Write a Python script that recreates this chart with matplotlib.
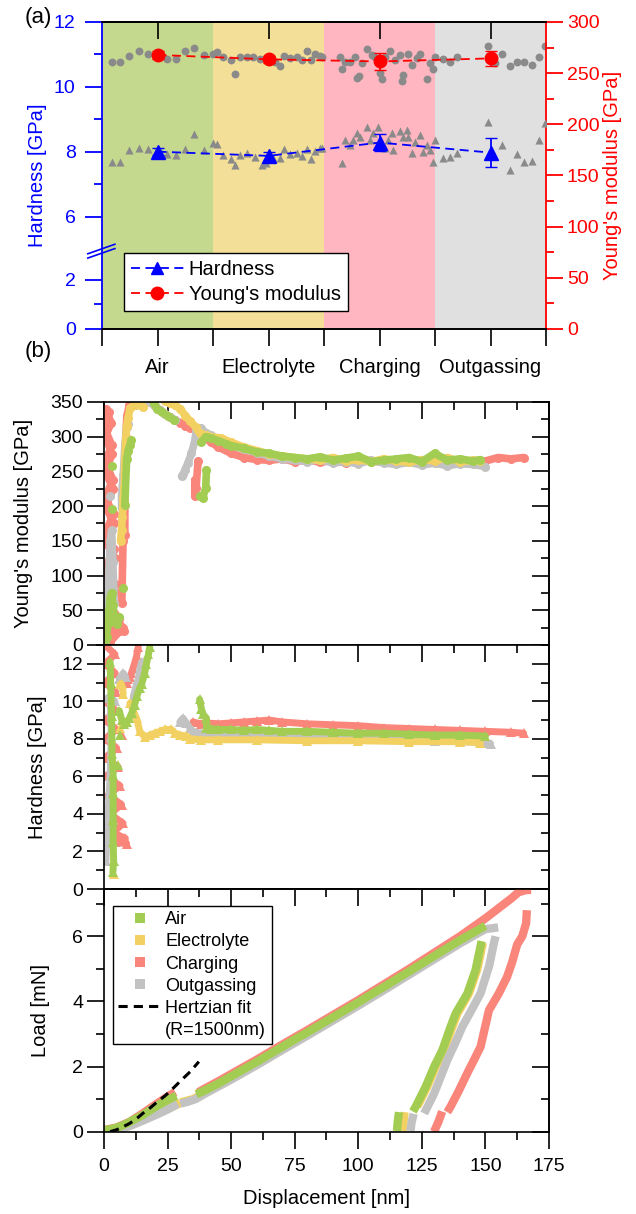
import numpy as np
import matplotlib
matplotlib.use("Agg")
import matplotlib.pyplot as plt
from matplotlib.ticker import MultipleLocator, FixedLocator, NullFormatter
from matplotlib.lines import Line2D

plt.rcParams['font.family'] = ['Liberation Sans', 'DejaVu Sans']
plt.rcParams['axes.linewidth'] = 1.2

nan = np.nan

# ---------------- panel (a) data ----------------
conditions = ['Air', 'Electrolyte', 'Charging', 'Outgassing']
region_colors = ['#c4d98e', '#f3df98', '#ffb6c1', '#e0e0e0']
cond_pos = [0.5, 1.5, 2.5, 3.5]
mean_H = [8.01, 7.88, 8.29, 7.98]
err_H = [0.10, 0.12, 0.25, 0.45]
mean_E = [267.8, 263.5, 261.4, 264.4]
err_E = [3.5, 3.5, 8.0, 7.2]

# single indents (grey): modulus circles
ind_x_E = [0.087, 0.162, 0.246, 0.333, 0.417, 0.583, 0.667, 0.748, 0.832, 0.919,
           0.997, 1.039, 1.093, 1.162, 1.198, 1.243, 1.304, 1.363, 1.423, 1.559,
           1.604, 1.640, 1.694, 1.754, 1.799, 1.844, 1.880, 1.919, 1.964,
           1.979, 2.144, 2.159, 2.189, 2.234, 2.279, 2.294, 2.318, 2.339, 2.384,
           2.430, 2.459, 2.504, 2.520, 2.550, 2.595, 2.640, 2.685, 2.700, 2.715,
           2.754, 2.790, 2.835, 2.865, 2.925, 2.955, 2.985, 3.000, 3.075, 3.135,
           3.201, 3.475, 3.541, 3.601, 3.676, 3.736, 3.802, 3.871, 3.937, 3.991]
ind_E = [261, 261, 267, 272, 269, 263.5, 264, 271.7, 275, 267.5,
         269, 271, 266, 263, 249, 265.5, 265.5, 266, 263.5, 261,
         257, 266.8, 264.5, 265.5, 263, 271.7, 263, 268.5, 266.8,
         266, 266, 254, 261, 261, 265.5, 245, 247, 260, 274,
         268, 266, 250, 244, 266, 272, 263, 268, 242, 248,
         269, 258, 264.5, 269, 244.6, 259.6, 253.8, 265.5, 263.5, 261,
         266, 277, 259.6, 268.7, 257, 260.6, 260.6, 258, 266, 277]
# single indents (grey): hardness triangles
ind_x_H = [0.087, 0.162, 0.246, 0.333, 0.417, 0.583, 0.667, 0.748, 0.832, 0.919,
           0.997, 1.039, 1.093, 1.162, 1.198, 1.243, 1.304, 1.378, 1.438, 1.474,
           1.544, 1.604, 1.640, 1.694, 1.754, 1.799, 1.844, 1.880, 1.919, 1.964,
           1.979, 2.159, 2.189, 2.234, 2.264, 2.294, 2.324, 2.384, 2.414, 2.444,
           2.489, 2.550, 2.580, 2.610, 2.625, 2.685, 2.715, 2.745, 2.760, 2.790,
           2.820, 2.865, 2.895, 2.925, 2.955, 2.985, 3.000, 3.075, 3.135, 3.201,
           3.475, 3.601, 3.676, 3.736, 3.802, 3.871, 3.937, 3.991]
ind_H = [7.68, 7.68, 8.06, 8.11, 8.09, 7.94, 7.91, 8.09, 8.55, 8.06,
         8.27, 8.24, 7.91, 7.78, 7.60, 7.91, 7.96, 7.86, 7.60, 7.65,
         7.80, 7.80, 8.09, 7.94, 7.96, 7.89, 8.08, 7.78, 8.04, 8.11,
         8.11, 7.67, 8.37, 8.22, 8.37, 8.58, 8.47, 8.78, 8.37, 8.58,
         8.78, 8.11, 8.37, 8.58, 8.06, 8.63, 8.47, 8.68, 8.47, 7.96,
         8.32, 8.52, 8.01, 8.22, 8.06, 7.70, 8.37, 7.82, 7.86, 7.98,
         8.93, 8.22, 7.45, 7.93, 7.68, 7.73, 8.37, 8.88]

# ---------------- panel (b) data ----------------
cols = {'Air': '#a2cd52', 'Electrolyte': '#f2d062', 'Charging': '#f9857b', 'Outgassing': '#c2c2c2'}

# Young's modulus vs displacement
air_E_d = [0.5, 1.0, 1.5, 2.0, 2.5, 3.0, 3.5, 4.0, 5.0, 6.0, nan, 3.0, nan, 3.0, nan, 7.5, nan,
           8.2, 8.9, 9.5, 10.2, 10.8, nan, 19.5, 21, 23, 25, 27.5, nan, 37.6, 38.8, 40.0, 40.3, nan,
           38.3, 40, 42, 45, 48, 50, 55, 60, 65, 70, 75, 80, 85, 90, 95, 100, 105, 110, 115, 120,
           125, 130, 135, 140, 145, 148]
air_E = [0, 12, 30, 50, 68, 75, 58, 42, 30, 40, nan, 196, nan, 258, nan, 82, nan,
         202, 268, 279, 288, 295, nan, 348, 340, 335, 330, 324, nan, 214, 212, 226, 252, nan,
         292, 300, 298, 294, 290, 287, 283, 278, 276, 272, 270, 268, 271, 266, 269, 272, 264, 266, 268, 270,
         264, 276, 266, 268, 265, 267]
elec_E_d = [6.5, 6.9, 7.2, 7.6, 8.0, 8.2, 8.6, 8.9, 9.5, 10.2, 12, 14, 15.4, nan,
            24, 26, 28, 30, 32, 34, 36, 37.6, 40, 42, 46, 50, 55, 60, 65, 70, 75, 80, 85, 90, 95,
            100, 105, 110, 115, 120, 125, 130, 135, 140, 145, 148]
elec_E = [150, 165, 185, 211, 228, 265, 298, 315, 327, 341, 346, 345, 343, nan,
          352, 348, 345, 340, 330, 322, 314, 305, 302, 300, 298, 292, 285, 280, 275, 272, 270, 268, 266, 270, 265,
          267, 264, 268, 265, 263, 267, 265, 270, 264, 266, 265]
chg_E_d = [0.6, 2.8, 0.5, 3.2, 0.5, 3.6, 0.5, 4.0, 0.5, 4.2, 0.8, 4.5, 1.5, 7.5, 2.5, nan,
           2.0, 0.5, 3.0, 0.5, 3.5, 0.5, 3.8, 0.5, 4.0, 0.6, 4.3, 1.0, 6.0, 2.0, 8.0, nan,
           7.0, 7.5, 8.2, 8.2, 8.6, 9.0, 10.0, 11.0, nan, 18, 20, 22, 24, 26, 28, 30, 32, 34, nan,
           35.7, 35.7, 36.2, 37.0, nan, 37.6, 40, 42, 45, 50, 55, 60, 65, 70, 75, 80, 85, 90, 95,
           100, 105, 110, 115, 120, 125, 130, 135, 140, 145, 150, 155, 160, 165]
chg_E = [340, 320, 300, 275, 250, 225, 200, 175, 150, 125, 100, 75, 50, 25, 5, nan,
         335, 310, 288, 262, 238, 212, 188, 162, 138, 112, 88, 62, 38, 15, 20, nan,
         60, 150, 158, 255, 300, 330, 346, 350, nan, 350, 344, 338, 333, 328, 324, 320, 316, 312, nan,
         214, 238, 226, 265, nan, 303, 298, 292, 285, 276, 270, 267, 266, 268, 264, 267, 263, 266, 262,
         268, 265, 263, 267, 264, 266, 263, 267, 264, 262, 265, 270, 268, 270]
out_E_d = [0.5, 1.0, 1.5, 2.0, 2.5, 3.0, 3.5, 4.0, nan, 2.4, nan, 6.9, 6.9, 7.6, 8.2, 8.9, 9.5, nan,
           16, 18, 20, 22, 24, 26, 28, nan, 30.5, 31.2, 31.8, 33, 34.4, 35.7, 36.3, 38, 40, 42, 45, 50,
           55, 60, 65, 70, 75, 80, 85, 90, 95, 100, 105, 110, 115, 120, 125, 130, 135, 140, 145, 150]
out_E = [0, 30, 70, 110, 150, 165, 120, 60, nan, 214, nan, 197, 216, 245, 288, 314, 318, nan,
         355, 350, 344, 338, 333, 328, 324, nan, 243, 246, 252, 262, 276, 294, 309, 312, 306, 302, 296, 288,
         282, 277, 272, 268, 266, 264, 267, 262, 264, 261, 266, 262, 260, 263, 259, 262, 258, 261, 260, 257]

# Hardness vs displacement
air_H_d = [3.5, 3.8, 3.6, 3.6, 3.6, 3.6, 3.2, 3.0, 2.6, 2.4, nan, 5.6, nan, 6.3, nan,
           6.0, 7.0, 8.0, 9.0, 10.0, 11.0, 12.0, 13.0, 14.0, 14.8, 16.0, 16.7, 17.5, 18.0, nan,
           37.6, 38.3, 39.0, 40.3, 40.3, 42, 45, 50, 55, 60, 65, 70, 80, 90, 100, 110, 120, 130, 140, 150]
air_H = [0.9, 1.5, 2.5, 3.7, 5.1, 6.1, 7.2, 9.2, 11.0, 12.1, nan, 6.6, nan, 8.2, nan,
         9.5, 9.0, 8.8, 8.9, 9.1, 9.4, 9.8, 10.3, 10.7, 10.9, 11.5, 12.0, 12.5, 12.9, nan,
         10.1, 9.6, 9.3, 9.1, 8.6, 8.55, 8.5, 8.5, 8.45, 8.5, 8.45, 8.4, 8.4, 8.35, 8.3, 8.3, 8.25, 8.2, 8.2, 8.15]
elec_H_d = [3.8, nan, 6.3, 6.9, 7.6, nan, 6.3, nan, 10.2, 12.8, 14.1, 16, 18, 20, 22, 24, 26.5, 28, 30,
            32.4, 34, 38, 45, 60, 80, 100, 120, 140, 148]
elec_H = [0.8, nan, 10.9, 10.9, 10.4, nan, 8.6, nan, 9.9, 9.1, 8.4, 8.1, 8.2, 8.3, 8.4, 8.5, 8.5, 8.3, 8.2,
          8.15, 8.0, 7.95, 7.95, 7.95, 7.9, 7.9, 7.85, 7.85, 7.8]
chg_H_d = [0.4, 4.3, 0.4, 4.4, 0.4, 4.6, 0.4, 4.7, 0.4, 4.9, 0.4, 5.0, 0.5, 5.6, 0.8, 6.3, 1.6, 6.9,
           2.4, 7.5, 3.6, 8.4, 4.3, 8.9, nan, 6.9, nan,
           8.9, 9.5, 10.2, 10.8, 11.5, 12.2, 12.8, 13.5, nan,
           35, 38, 40, 45, 50, 55, 60, 65, 70, 80, 90, 100, 110, 120, 130, 140, 150, 160, 165]
chg_H = [13, 12.5, 12, 11.5, 11, 10.5, 10, 9.5, 9, 8.5, 8, 7.5, 7, 6.5, 6, 5.5, 5, 4.5,
         4, 3.5, 3, 2.7, 2.5, 2.4, nan, 8.2, nan,
         11.0, 11.2, 11.3, 11.5, 11.8, 12.1, 12.4, 12.9, nan,
         8.9, 8.8, 8.85, 8.8, 8.85, 8.9, 8.95, 9.0, 8.9, 8.8, 8.75, 8.7, 8.6, 8.55, 8.5, 8.45, 8.4, 8.35, 8.3]
out_H_d = [0.8, 1.0, 1.4, 1.6, 2.0, 2.4, 2.9, 2.6, 2.4, nan, 1.5, 3.0, 4.3, nan, 6.0, 7.6, 8.5, nan,
           11.5, 12.2, 13.5, 14.1, 14.8, nan, 29.8, 31.1, 32.4, 33.7, 35, 38, 42, 50, 60, 70, 80, 90,
           100, 110, 120, 130, 140, 150, 152]
out_H = [1.5, 2.5, 3.5, 4.05, 5.0, 6.0, 8.1, 9.5, 10.2, nan, 10.2, 10.1, 10.0, nan, 11.2, 11.5, 11.3, nan,
         10.2, 10.6, 11.2, 11.7, 12.1, nan, 8.9, 9.1, 8.85, 8.6, 8.4, 8.3, 8.25, 8.2, 8.15, 8.1, 8.1, 8.05,
         8.0, 8.0, 7.95, 7.9, 7.85, 7.8, 7.75]

# Load vs displacement
air_L_d = [0, 3, 6, 9, 12, 15, 18, 21, 24, 27, 28.5, nan,
           36.3, 40, 45, 50, 55, 60, 65, 70, 75, 80, 85, 90, 95, 100, 105, 110, 115, 120, 125, 130,
           135, 140, 145, 150, nan,
           148.5, 146.1, 142.9, 138.3, 136.3, 133.1, 129.8, 126.5, 122.6, 121.5, nan, 116.0, 115.5, 115.2]
air_L = [0.05, 0.08, 0.15, 0.25, 0.38, 0.5, 0.65, 0.8, 0.93, 1.05, 1.1, nan,
         1.15, 1.28, 1.48, 1.70, 1.92, 2.14, 2.37, 2.60, 2.83, 3.05, 3.28, 3.51, 3.74, 3.97, 4.21, 4.44,
         4.68, 4.92, 5.16, 5.40, 5.64, 5.88, 6.10, 6.32, nan,
         5.85, 4.96, 4.24, 3.63, 3.22, 2.51, 1.99, 1.38, 0.77, 0.62, nan, 0.6, 0.3, 0.02]
elec_L_d = [0, 5, 10, 15, 20, 25, 30, nan, 30, 35, 40, 50, 60, 70, 80, 90, 100, 110, 120, 130, 140, 148, nan,
            149.0, 146.7, 143.5, 139.0, 137.0, 133.7, 130.4, 127.1, 123.2, nan, 118.2, 117.8, 117.5]
elec_L = [0.02, 0.06, 0.18, 0.35, 0.52, 0.70, 0.88, nan, 0.90, 1.0, 1.2, 1.62, 2.06, 2.52, 2.97, 3.43, 3.89,
          4.36, 4.84, 5.32, 5.80, 6.15, nan,
          5.8, 4.96, 4.24, 3.63, 3.22, 2.51, 1.99, 1.38, 0.77, nan, 0.6, 0.3, 0.02]
chg_L_d = [0, 5, 10, 15, 20, 25, 28, nan,
           37, 40, 45, 50, 60, 70, 80, 90, 100, 110, 120, 130, 140, 150, 155, 160, 163, 166, 168, nan,
           166.3, 166.0, 164.5, 162.5, 160.5, 158.5, 155.3, 151.4, 148.1, 145.5, 142.9, 139.5, 136.3, 135.0,
           nan, 133.0, 131.5, 129.8]
chg_L = [0.05, 0.13, 0.3, 0.55, 0.82, 1.08, 1.22, nan,
         1.21, 1.34, 1.55, 1.77, 2.21, 2.67, 3.12, 3.58, 4.04, 4.52, 5.0, 5.5, 6.0, 6.55, 6.85, 7.15, 7.35,
         7.42, 7.42, nan,
         6.8, 6.4, 6.0, 5.75, 5.2, 4.75, 4.25, 3.73, 2.61, 2.2, 1.8, 1.25, 0.77, 0.6,
         nan, 0.62, 0.3, 0.0]
out_L_d = [0, 5, 10, 15, 20, 25, 29, nan,
           30, 33, 36, 40, 50, 60, 70, 80, 90, 100, 110, 120, 130, 140, 150, 155, nan,
           154, 153.3, 151.5, 148.1, 145, 140.9, 138, 135, 132.5, 129.8, 125.9, nan, 121.8, 121.0, 120.5]
out_L = [0.02, 0.06, 0.17, 0.33, 0.5, 0.68, 0.85, nan,
         0.86, 0.92, 1.0, 1.18, 1.6, 2.04, 2.5, 2.95, 3.41, 3.87, 4.34, 4.82, 5.30, 5.78, 6.22, 6.27, nan,
         6.0, 5.78, 5.1, 4.25, 3.8, 3.22, 2.7, 2.2, 1.7, 1.17, 0.56, nan, 0.55, 0.3, 0.02]

hertz_d = [2.4, 5, 7.5, 10, 12.5, 15.4, 18, 21, 24, 26.5, 30, 34, 37.3]
hertz_L = [0, 0.06, 0.15, 0.25, 0.38, 0.57, 0.72, 0.92, 1.1, 1.28, 1.55, 1.85, 2.15]


# broken hardness axis: 0-3.2 compressed differently from 5-12
def h_fwd(h):
    h = np.asarray(h, float)
    return np.where(h <= 3.2, 24 * h,
                    np.where(h <= 5, 76.8 + (h - 3.2) * 0.5, 77.7 + (h - 5) * 31.757))


def h_inv(v):
    v = np.asarray(v, float)
    return np.where(v <= 76.8, v / 24,
                    np.where(v <= 77.7, 3.2 + (v - 76.8) / 0.5, 5 + (v - 77.7) / 31.757))


fig = plt.figure(figsize=(6.36, 12.14), dpi=100)

# ================= (a) =================
axE = fig.add_axes([0.1604, 0.729, 0.6981, 0.2529])
axH = axE.twinx()
axH.yaxis.tick_left()
axH.yaxis.set_label_position('left')
axE.yaxis.tick_right()
axE.yaxis.set_label_position('right')
axH.set_zorder(axE.get_zorder() + 1)
axH.patch.set_visible(False)

axE.set_xlim(0, 4)
axE.set_ylim(0, 300)
for i, c in enumerate(region_colors):
    axE.axvspan(i, i + 1, color=c, lw=0, zorder=0)

axH.set_yscale('function', functions=(h_fwd, h_inv))
axH.set_ylim(0, 12)

axE.scatter(ind_x_E, ind_E, marker='o', s=32, color='#8a8a8a', lw=0, zorder=2)
axE.errorbar(cond_pos, mean_E, yerr=err_E, fmt='o--', color='red', ms=9, capsize=4,
             lw=1.3, dashes=(5, 3), zorder=3)
axH.scatter(ind_x_H, ind_H, marker='^', s=34, color='#8a8a8a', lw=0, zorder=2)
axH.errorbar(cond_pos, mean_H, yerr=err_H, fmt='^--', color='blue', ms=10, capsize=4,
             lw=1.3, dashes=(5, 3), zorder=3)

axE.spines['left'].set_visible(False)
axH.spines['right'].set_visible(False)
axE.spines['right'].set_color('red')
axH.spines['left'].set_color('blue')
axE.spines['right'].set_linewidth(1.3)
axH.spines['left'].set_linewidth(1.3)

axE.yaxis.set_major_locator(MultipleLocator(50))
axE.yaxis.set_minor_locator(MultipleLocator(25))
axE.tick_params(axis='y', which='both', colors='red', direction='out', labelsize=14, pad=3)
axE.tick_params(axis='y', which='major', length=12, width=1.3)
axE.tick_params(axis='y', which='minor', length=6, width=1.3)

axH.yaxis.set_major_locator(FixedLocator([0, 2, 6, 8, 10, 12]))
axH.yaxis.set_minor_locator(FixedLocator([1, 7, 9, 11]))
axH.tick_params(axis='y', which='both', colors='blue', direction='out', labelsize=14, pad=7)
axH.tick_params(axis='y', which='major', length=12, width=1.3)
axH.tick_params(axis='y', which='minor', length=6, width=1.3)

axE.set_xticks(cond_pos)
axE.set_xticklabels(conditions)
axE.xaxis.set_minor_locator(FixedLocator([0, 1, 2, 3, 4]))
axE.tick_params(axis='x', which='both', direction='out', length=12, width=1.2, labelsize=14.5, pad=9)
topa = axE.secondary_xaxis('top')
topa.set_xticks(cond_pos)
topa.tick_params(direction='in', length=12, width=1.2, labeltop=False)
topa.xaxis.set_major_formatter(NullFormatter())

axH.set_ylabel('Hardness [GPa]', color='blue', fontsize=14.5)
axH.yaxis.set_label_coords(-0.124, 0.5)
axE.set_ylabel("Young's modulus [GPa]", color='red', fontsize=14.5)
axE.yaxis.set_label_coords(1.128, 0.5)

# axis break marks
for dy in (0.0, 0.014):
    axH.plot([-0.032, 0.029], [0.231 + dy, 0.262 + dy], transform=axH.transAxes,
             color='blue', lw=1.2, clip_on=False, zorder=6)

leg_a = axH.legend(handles=[
    Line2D([], [], color='blue', ls='--', dashes=(5, 3), marker='^', ms=9, lw=1.3),
    Line2D([], [], color='red', ls='--', dashes=(5, 3), marker='o', ms=9, lw=1.3)],
    labels=['Hardness', "Young's modulus"], loc='lower left', bbox_to_anchor=(0.05, 0.058),
    fontsize=14.5, frameon=True, fancybox=False, framealpha=1, edgecolor='black',
    handlelength=2.6, handletextpad=0.25, labelspacing=0.3, borderpad=0.35, borderaxespad=0)
leg_a.get_frame().set_linewidth(1.0)

fig.text(0.038, 1 - 18 / 1214, '(a)', fontsize=16, va='center')
fig.text(0.038, 1 - 352 / 1214, '(b)', fontsize=16, va='center')

# ================= (b) =================
L = 0.1635
W = 0.6997
ax_top = fig.add_axes([L, 0.4687, W, 0.2002])
ax_mid = fig.add_axes([L, 0.2677, W, 0.2010])
ax_bot = fig.add_axes([L, 0.0678, W, 0.1999])


def frame_b(ax, ylim, ymaj, ymin, bottom):
    ax.set_xlim(0, 175)
    ax.set_ylim(*ylim)
    ax.xaxis.set_major_locator(MultipleLocator(25))
    ax.xaxis.set_minor_locator(MultipleLocator(12.5))
    ax.yaxis.set_major_locator(MultipleLocator(ymaj))
    ax.yaxis.set_minor_locator(MultipleLocator(ymin))
    ax.tick_params(axis='y', which='both', direction='out', labelsize=14, width=1.2, pad=3)
    ax.tick_params(axis='y', which='major', length=12)
    ax.tick_params(axis='y', which='minor', length=6)
    ry = ax.secondary_yaxis('right')
    ry.yaxis.set_major_locator(MultipleLocator(ymaj))
    ry.yaxis.set_minor_locator(MultipleLocator(ymin))
    ry.yaxis.set_major_formatter(NullFormatter())
    ry.tick_params(which='both', direction='in', width=1.2)
    ry.tick_params(which='major', length=12)
    ry.tick_params(which='minor', length=6)
    if bottom:
        ax.tick_params(axis='x', which='both', direction='out', labelsize=14, width=1.2, pad=7)
        ax.tick_params(axis='x', which='major', length=12)
        ax.tick_params(axis='x', which='minor', length=6)
        tx = ax.secondary_xaxis('top')
        tx.xaxis.set_major_locator(MultipleLocator(25))
        tx.xaxis.set_minor_locator(MultipleLocator(12.5))
        tx.xaxis.set_major_formatter(NullFormatter())
        tx.tick_params(which='both', direction='in', width=1.2)
        tx.tick_params(which='major', length=12)
        tx.tick_params(which='minor', length=6)
    else:
        ax.tick_params(axis='x', which='both', direction='in', top=True, bottom=False,
                       labelbottom=False, width=1.2)
        ax.tick_params(axis='x', which='major', length=12)
        ax.tick_params(axis='x', which='minor', length=6)


frame_b(ax_top, (0, 350), 50, 25, False)
frame_b(ax_mid, (0, 13), 2, 1, False)
frame_b(ax_bot, (0, 7.45), 2, 1, True)

series_E = [('Charging', chg_E_d, chg_E), ('Outgassing', out_E_d, out_E),
            ('Electrolyte', elec_E_d, elec_E), ('Air', air_E_d, air_E)]
for name, d, v in series_E:
    ax_top.plot(d, v, '-o', color=cols[name], lw=5.5, ms=6.5, mew=0,
                solid_capstyle='round', solid_joinstyle='round')

series_H = [('Charging', chg_H_d, chg_H), ('Outgassing', out_H_d, out_H),
            ('Electrolyte', elec_H_d, elec_H), ('Air', air_H_d, air_H)]
for name, d, v in series_H:
    ax_mid.plot(d, v, '-^', color=cols[name], lw=5, ms=7, mew=0,
                solid_capstyle='round', solid_joinstyle='round')

series_L = [('Electrolyte', elec_L_d, elec_L), ('Charging', chg_L_d, chg_L),
            ('Outgassing', out_L_d, out_L), ('Air', air_L_d, air_L)]
for name, d, v in series_L:
    ax_bot.plot(d, v, '-', color=cols[name], lw=6, solid_capstyle='butt', solid_joinstyle='round')
ax_bot.plot(hertz_d, hertz_L, '--', color='black', lw=2.2, dashes=(3, 2))

ax_top.set_ylabel("Young's modulus [GPa]", fontsize=14.5)
ax_top.yaxis.set_label_coords(-0.160, 0.5)
ax_mid.set_ylabel('Hardness [GPa]', fontsize=14.5)
ax_mid.yaxis.set_label_coords(-0.128, 0.5)
ax_bot.set_ylabel('Load [mN]', fontsize=14.5)
ax_bot.yaxis.set_label_coords(-0.121, 0.5)
ax_bot.set_xlabel('Displacement [nm]', fontsize=14.5, labelpad=10)

leg_handles = [Line2D([], [], ls='none', marker='s', ms=7, mew=0, color=cols[n])
               for n in conditions]
leg_handles.append(Line2D([], [], color='black', ls='--', dashes=(3, 2), lw=2.2))
leg_handles.append(Line2D([], [], alpha=0))
leg_b = ax_bot.legend(handles=leg_handles,
                      labels=conditions + ['Hertzian fit', '(R=1500nm)'],
                      loc='upper left', bbox_to_anchor=(0.02, 0.93), fontsize=13,
                      frameon=True, fancybox=False, framealpha=1, edgecolor='black',
                      handlelength=2.4, handletextpad=0.2, labelspacing=0.28,
                      borderpad=0.3, borderaxespad=0)
leg_b.get_frame().set_linewidth(1.0)

fig.savefig('out.png', dpi=100)
